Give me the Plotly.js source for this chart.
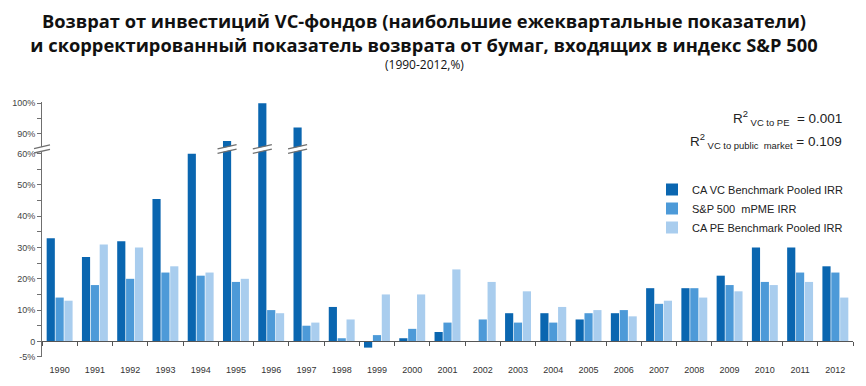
<!DOCTYPE html>
<html>
<head>
<meta charset="utf-8">
<script src="https://cdn.plot.ly/plotly-3.0.1.min.js"></script>
<style>html,body{margin:0;padding:0;background:#fff;}</style>
</head>
<body>
<div id="chart" style="width:866px;height:386px;"></div>
<script>
// ---- data ----
const years = ["1990","1991","1992","1993","1994","1995","1996","1997","1998","1999","2000","2001",
               "2002","2003","2004","2005","2006","2007","2008","2009","2010","2011","2012"];
const caVC  = [33, 27, 32, 45.5, 60, 87.5, 100, 92, 11, -2, 1, 3, null, 9, 9, 7, 9, 17, 17, 21, 30, 30, 24];
const spMPME = [14, 18, 20, 22, 21, 19, 10, 5, 1, 2, 4, 6, 7, 6, 6, 9, 10, 12, 17, 18, 19, 22, 22];
const caPE  = [13, 31, 30, 24, 22, 20, 9, 6, 7, 15, 15, 23, 19, 16, 11, 10, 8, 13, 14, 16, 18, 19, 14];
const seriesNames = ["CA VC Benchmark Pooled IRR", "S&P 500  mPME IRR", "CA PE Benchmark Pooled IRR"];
const lowTickVals = [-5, 0, 10, 20, 30, 40, 50, 60];
const lowTickText = ["-5%", "0", "10%", "20%", "30%", "40%", "50%", "60%"];
const lowMinorVals = [5, 15, 25, 35, 45, 55];
const upTickVals = [90, 100];
const upTickText = ["90%", "100%"];
const upMinorVals = [95];

// ---- styling / layout constants ----
const colors = ["#0a66b0", "#4d9ad8", "#a9cdee"];
const W = 866, H = 386;
const mL = 42, mR = 13, mT = 102, mB = 29;
const plotH = H - mT - mB;
const lowRange = [-5, 61.5];
const upRange = [84.9, 100.4];
const split = 0.8157;
const bargap = 0.245, bargroupgap = 0.08;
const font = "Liberation Sans, Arial, sans-serif";
const axisCol = "#6f6f6f";

const allSeries = [caVC, spMPME, caPE];
const traces = [];
allSeries.forEach((vals, k) => {
  traces.push({type: "bar", x: years, y: vals, name: seriesNames[k], xaxis: "x", yaxis: "y",
    marker: {color: colors[k], line: {width: 0}}, legendgroup: "g" + k, hoverinfo: "x+y"});
});
allSeries.forEach((vals, k) => {
  traces.push({type: "bar", x: years, y: vals, name: seriesNames[k], xaxis: "x", yaxis: "y2",
    marker: {color: colors[k], line: {width: 0}}, legendgroup: "g" + k, showlegend: false, hoverinfo: "x+y"});
});

// x-axis line position at y = 0 of the lower axis
const zeroPos = (0 - lowRange[0]) / (lowRange[1] - lowRange[0]) * split;

// break marks (axis + bars that cross the break)
const pxToPaperY = py => (H - mB - py) / plotH;
const yMid = H - mB - split * plotH; // pixel of break
const shapes = [];
function breakMark(xref, xc, halfw) {
  const dy = 2.2;
  const slope = 4.3 / 19;
  const pxPerCat = (W - mL - mR) / years.length;
  const hw = xref === "x" ? halfw * pxPerCat : halfw;
  const rise = hw * slope;
  const mk = (off, col, wdt) => {
    const s = {type: "line", xref: xref, yref: "paper", layer: "above",
      y0: pxToPaperY(yMid + off + rise), y1: pxToPaperY(yMid + off - rise),
      line: {color: col, width: wdt}};
    if (xref === "x") { s.x0 = xc - halfw; s.x1 = xc + halfw; }
    else { s.x0 = xc - halfw / (W - mL - mR); s.x1 = xc + halfw / (W - mL - mR); }
    return s;
  };
  shapes.push(mk(0, "#ffffff", 4));
  shapes.push(mk(-dy, "#707070", 1.3));
  shapes.push(mk(dy, "#707070", 1.3));
}
const slot = (1 - bargap) / 3;
caVC.forEach((v, i) => {
  if (v !== null && v > lowRange[1]) breakMark("x", i - slot, 0.27);
});
breakMark("paper", 0, 8);

const minorStyle = vals => ({tickmode: "array", tickvals: vals, ticks: "outside", ticklen: 4,
  tickcolor: axisCol, showgrid: false});

const layout = {
  width: W, height: H,
  margin: {l: mL, r: mR, t: mT, b: mB, pad: 0},
  paper_bgcolor: "#fff", plot_bgcolor: "rgba(0,0,0,0)",
  font: {family: font, size: 9, color: "#444"},
  title: {
    text: "<b>Возврат от инвестиций VC-фондов (наибольшие ежеквартальные показатели)<br>и скорректированный показатель возврата от бумаг, входящих в индекс S&P 500</b>",
    font: {family: "Open Sans, sans-serif", size: 18.3, color: "#111"},
    xref: "container", x: 424 / W, xanchor: "center",
    yref: "container", y: 1 - 28 / H, yanchor: "top"
  },
  barmode: "group", bargap: bargap, bargroupgap: bargroupgap,
  showlegend: true,
  legend: {x: (652 - mL) / (W - mL - mR), xanchor: "left", y: pxToPaperY(175), yanchor: "top",
    font: {family: font, size: 11, color: "#222"}, bgcolor: "rgba(0,0,0,0)", traceorder: "normal",
    tracegroupgap: 0, itemclick: false},
  xaxis: {type: "category", categoryorder: "array", categoryarray: years,
    anchor: "free", position: zeroPos, domain: [0, 1],
    showline: true, linecolor: "#555", linewidth: 1,
    ticks: "outside", tickson: "boundaries", ticklen: 4, tickcolor: "#555",
    ticklabelstandoff: 20, tickfont: {family: font, size: 9, color: "#333"},
    showgrid: false, zeroline: false, fixedrange: true},
  yaxis: {domain: [0, split], range: lowRange, tickmode: "array", tickvals: lowTickVals, ticktext: lowTickText,
    minor: minorStyle(lowMinorVals),
    showline: true, linecolor: axisCol, ticks: "outside", ticklen: 4, tickcolor: axisCol,
    tickfont: {family: font, size: 9, color: "#444"}, showgrid: false, zeroline: false, fixedrange: true,
    anchor: "x"},
  yaxis2: {domain: [split, 1], range: upRange, tickmode: "array", tickvals: upTickVals, ticktext: upTickText,
    minor: minorStyle(upMinorVals),
    showline: true, linecolor: axisCol, ticks: "outside", ticklen: 4, tickcolor: axisCol,
    tickfont: {family: font, size: 9, color: "#444"}, showgrid: false, zeroline: false, fixedrange: true,
    anchor: "x"},
  shapes: shapes,
  annotations: [
    {text: "(1990-2012,%)", xref: "paper", yref: "paper", x: (424 - mL) / (W - mL - mR), y: pxToPaperY(64),
     xanchor: "center", yanchor: "middle", showarrow: false,
     font: {family: "Open Sans, sans-serif", size: 12, color: "#111"}},
    {text: "R<sup>2</sup><sub> VC to PE</sub>  = 0.001", xref: "paper", yref: "paper",
     x: (844 - mL) / (W - mL - mR), y: pxToPaperY(118), xanchor: "right", yanchor: "middle", showarrow: false,
     font: {family: font, size: 13.5, color: "#222"}},
    {text: "R<sup>2</sup><sub> VC to public  market</sub> = 0.109", xref: "paper", yref: "paper",
     x: (844 - mL) / (W - mL - mR), y: pxToPaperY(141), xanchor: "right", yanchor: "middle", showarrow: false,
     font: {family: font, size: 13.5, color: "#222"}}
  ]
};

Plotly.newPlot("chart", traces, layout, {displayModeBar: false, staticPlot: true});
</script>
</body>
</html>
